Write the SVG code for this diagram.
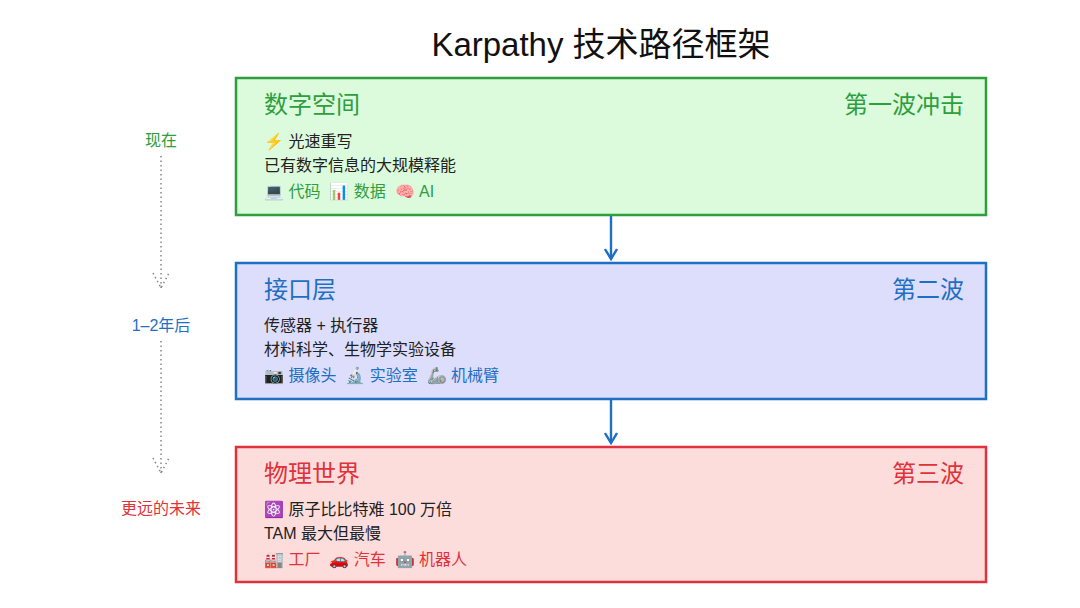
<svg xmlns="http://www.w3.org/2000/svg" width="1080" height="608" viewBox="0 0 1080 608">
<style>
text{font-family:"Liberation Sans","Noto Sans CJK SC",sans-serif;white-space:pre}
.t{font-size:24px}.b{font-size:16px;fill:#222}.s{font-size:16px}
.g{fill:#2e9e3e}.bl{fill:#1f6fc4}.r{fill:#e0323a}
.dot{stroke:#888;stroke-width:1.5;stroke-dasharray:1.5 3;fill:none}
</style>
<defs>
<marker id="a" markerWidth="14" markerHeight="14" refX="12" refY="7" orient="auto" markerUnits="userSpaceOnUse"><path d="M2,1 L12,7 L2,13" fill="none" stroke="#1f6fc4" stroke-width="2.4"/></marker>
</defs>
<rect width="1080" height="608" fill="#fff"/>
<text x="601" y="56" font-size="33" text-anchor="middle" fill="#111">Karpathy 技术路径框架</text>
<g id="timeline">
<text x="161" y="146" class="s g" text-anchor="middle">现在</text>
<path class="dot" d="M161 156V290M153 273l8 15l8-15"/>
<text x="161" y="331" class="s bl" text-anchor="middle">1–2年后</text>
<path class="dot" d="M161 341V475M153 458l8 15l8-15"/>
<text x="161" y="514" class="s r" text-anchor="middle">更远的未来</text>
</g>
<g id="n1">
<rect x="236" y="78" width="750" height="137" fill="#dcfadc" stroke="#2e9e3e" stroke-width="2.5"/>
<text x="264" y="113" class="t g">数字空间</text>
<text x="964" y="113" class="t g" text-anchor="end">第一波冲击</text>
<text x="264" y="147" class="b">⚡ 光速重写</text>
<text x="264" y="171" class="b">已有数字信息的大规模释能</text>
<text x="264" y="197" class="s g">💻 代码  📊 数据  🧠 AI</text>
</g>
<g id="n2">
<rect x="236" y="263" width="750" height="136" fill="#dcdefc" stroke="#1f6fc4" stroke-width="2.5"/>
<text x="264" y="298" class="t bl">接口层</text>
<text x="964" y="298" class="t bl" text-anchor="end">第二波</text>
<text x="264" y="331" class="b">传感器 + 执行器</text>
<text x="264" y="355" class="b">材料科学、生物学实验设备</text>
<text x="264" y="381" class="s bl">📷 摄像头  🔬 实验室  🦾 机械臂</text>
</g>
<g id="n3">
<rect x="236" y="447" width="750" height="135" fill="#fddcdc" stroke="#e0323a" stroke-width="2.5"/>
<text x="264" y="482" class="t r">物理世界</text>
<text x="964" y="482" class="t r" text-anchor="end">第三波</text>
<text x="264" y="515" class="b">⚛️ 原子比比特难 100 万倍</text>
<text x="264" y="539" class="b">TAM 最大但最慢</text>
<text x="264" y="565" class="s r">🏭 工厂  🚗 汽车  🤖 机器人</text>
</g>
<g id="connectors" stroke="#1f6fc4" stroke-width="2.4">
<line x1="611" y1="216" x2="611" y2="259" marker-end="url(#a)"/>
<line x1="611" y1="400" x2="611" y2="443" marker-end="url(#a)"/>
</g>
</svg>
